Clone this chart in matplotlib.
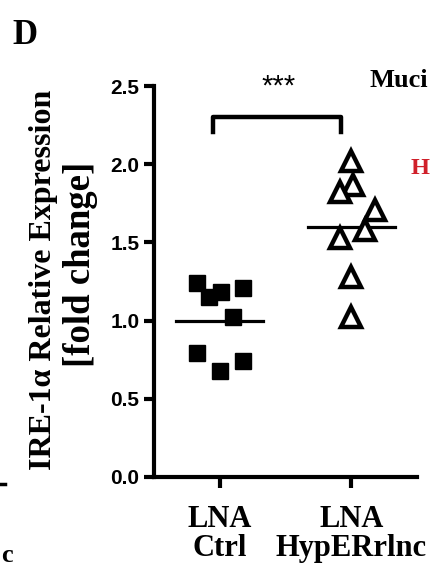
import numpy as np
import matplotlib
matplotlib.use("Agg")
import matplotlib.pyplot as plt
from matplotlib.lines import Line2D

# data
groups = ["LNA\nCtrl", "LNA\nHypERrlnc"]
ctrl_x = [-0.17, -0.08, 0.01, 0.18, 0.10, -0.17, 0.00, 0.18]
ctrl_y = [1.24, 1.15, 1.18, 1.21, 1.02, 0.79, 0.68, 0.74]
hyp_x = [0.00, 0.01, -0.09, 0.18, 0.10, -0.09, 0.00, 0.00]
hyp_y = [2.02, 1.87, 1.82, 1.71, 1.58, 1.53, 1.28, 1.02]
means = [1.00, 1.60]
yticks = [0.0, 0.5, 1.0, 1.5, 2.0, 2.5]

fig = plt.figure(figsize=(4.31, 5.67), dpi=100)
ax = fig.add_axes([0.357, 0.159, 0.611, 0.689])

ax.plot(np.array(ctrl_x) + 0, ctrl_y, ls="none", marker="s", ms=11.5,
        color="black", clip_on=False, zorder=3)
ax.plot(np.array(hyp_x) + 1, hyp_y, ls="none", marker="^", ms=14,
        mfc="white", mec="black", mew=3.2, clip_on=False, zorder=3)
for i, m in enumerate(means):
    ax.plot([i - 0.33, i + 0.33], [m, m], color="black", lw=2.3, zorder=2)

# significance bracket
ax.plot([-0.05, -0.05, 0.92, 0.92], [2.21, 2.30, 2.30, 2.21], color="black",
        lw=3.2, clip_on=False)
ax.text(0.45, 2.50, "***", ha="center", va="center", fontsize=21,
        fontfamily="Liberation Sans")

ax.set_xlim(-0.5, 1.5)
ax.set_ylim(0, 2.5)
ax.set_xticks([0, 1])
ax.set_xticklabels(groups, fontfamily="Liberation Serif", fontweight="bold",
                   fontsize=22, linespacing=1.0)
ax.set_yticks(yticks)
ax.set_yticklabels([f"{v:.1f}" for v in yticks], fontfamily="Liberation Sans",
                   fontweight="bold", fontsize=15)
for s in ["top", "right"]:
    ax.spines[s].set_visible(False)
for s in ["left", "bottom"]:
    ax.spines[s].set_linewidth(3)
ax.tick_params(axis="y", width=3, length=7, pad=3.5)
ax.tick_params(axis="x", width=3, length=8, pad=12)

# y label as two rotated lines
fig.text(44 / 431, 1 - 280 / 567, "IRE-1\u03b1 Relative Expression",
         rotation=90, fontfamily="Liberation Serif", fontweight="bold",
         fontsize=23, ha="center", va="center")
fig.text(81 / 431, 1 - 264 / 567, "[fold change]",
         rotation=90, fontfamily="Liberation Serif", fontweight="bold",
         fontsize=26.5, ha="center", va="center")

fig.text(12 / 431, 1 - 35 / 567, "D", fontfamily="Liberation Serif",
         fontweight="bold", fontsize=25, va="center", ha="left")
# fragments of neighbouring panels
fig.text(370 / 431, 1 - 81 / 567, "Muci", fontfamily="Liberation Serif",
         fontweight="bold", fontsize=19, ha="left", va="center")
fig.text(411 / 431, 1 - 168 / 567, "H", fontfamily="Liberation Serif",
         fontweight="bold", fontsize=17.5, color="#d0202a", ha="left",
         va="center")
fig.text(0.002, 1 - 555 / 567, "c", fontfamily="Liberation Serif",
         fontweight="bold", fontsize=19, ha="left", va="center")
fig.add_artist(Line2D([0, 0.012], [1 - 484 / 567, 1 - 484 / 567],
                      color="black", lw=2.5, transform=fig.transFigure))

fig.savefig("out.png", dpi=100)
